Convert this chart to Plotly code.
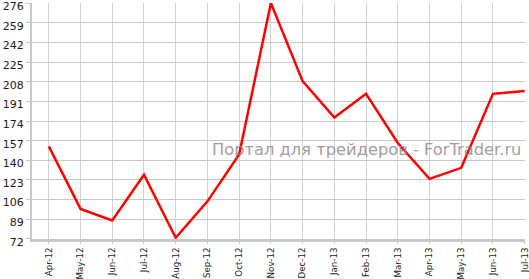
import plotly.graph_objects as go

months = ["Apr-12", "May-12", "Jun-12", "Jul-12", "Aug-12", "Sep-12", "Oct-12", "Nov-12",
          "Dec-12", "Jan-13", "Feb-13", "Mar-13", "Apr-13", "May-13", "Jun-13", "Jul-13"]
values = [152, 98, 88, 127.5, 73, 104.5, 145, 276, 208.5, 177, 197.5, 155, 124, 133.5, 197.5, 200]
y_ticks = [72, 89, 106, 123, 140, 157, 174, 191, 208, 225, 242, 259, 276]
watermark = "Портал для трейдеров - ForTrader.ru"

x_idx = list(range(len(months)))

fig = go.Figure()
fig.add_trace(go.Scatter(
    x=x_idx, y=values, mode="lines",
    line=dict(color="#ff0000", width=2.5),
    hoverinfo="skip", cliponaxis=False,
))

fig.add_annotation(
    x=0.995, y=0.38, xref="paper", yref="paper", xanchor="right", yanchor="middle",
    text=watermark, showarrow=False,
    font=dict(family="DejaVu Sans, Verdana, sans-serif", size=16.3, color="rgba(150,135,135,0.85)"),
)

fig.update_layout(
    width=529, height=279,
    margin=dict(l=32, r=4, t=3, b=40),
    paper_bgcolor="white", plot_bgcolor="white",
    showlegend=False,
    font=dict(family="DejaVu Sans, Verdana, sans-serif", color="#1a1a1a"),
    xaxis=dict(
        range=[-0.53, 15.01], tickmode="array", tickvals=x_idx, ticktext=months,
        tickangle=-90, tickfont=dict(size=8.7), automargin=False,
        ticklabeloverflow="allow", ticklabelstandoff=0,
        showgrid=True, gridcolor="#d2d2d2", gridwidth=1,
        showline=True, linecolor="#c8c8c8", linewidth=3,
        ticks="outside", ticklen=2, tickcolor="#c8c8c8",
        zeroline=False, fixedrange=True,
    ),
    yaxis=dict(
        range=[71.95, 276.05], tickmode="array", tickvals=y_ticks,
        ticktext=[str(v) for v in y_ticks], tickfont=dict(size=11), automargin=False,
        ticklabeloverflow="allow", ticklabelshift=3,
        showgrid=True, gridcolor="#c8c8c8", gridwidth=1,
        showline=True, linecolor="#c8c8c8", linewidth=2,
        ticks="outside", ticklen=4, tickcolor="#c8c8c8",
        zeroline=False, fixedrange=True,
    ),
)

fig.write_html("out.html")
